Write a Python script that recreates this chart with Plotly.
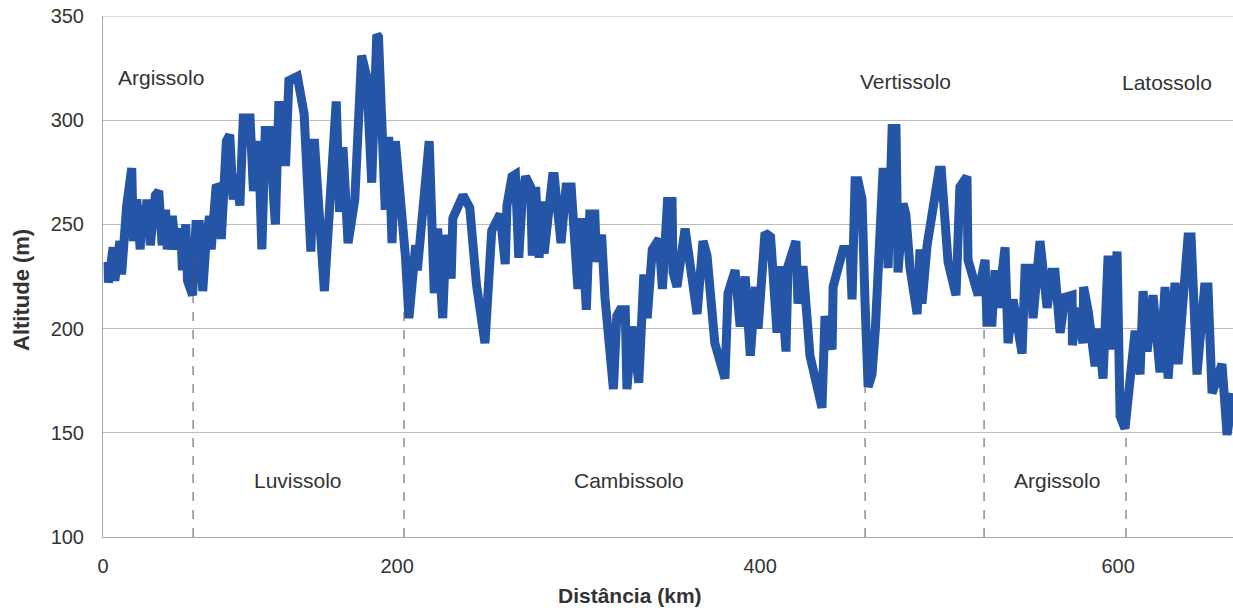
import plotly.graph_objects as go

# Elevation profile
dist_km = [3, 3.2, 6, 7, 10, 11, 14, 16, 17, 18, 20, 22, 23, 25, 26, 28, 31, 33, 35, 37, 38, 41, 43, 46, 47, 49, 50, 53, 55, 57,
           59, 61, 63, 64, 67, 69, 70, 73, 75, 77, 79, 81, 83, 87, 89, 92, 94, 96, 99, 101, 102, 104, 106, 108, 110,
           115, 119, 123, 125, 131, 138, 140, 142, 145, 149, 153, 156, 159, 162, 163, 167, 169, 171, 173, 179, 181, 185, 186,
           193, 196, 198, 201, 203, 206, 207, 213, 217, 221,
           226, 230, 235, 238, 239, 242, 244, 246, 248, 250, 253, 254, 256, 258, 260, 261, 266, 267, 271, 274, 277, 281, 283,
           286, 288, 291, 292, 295, 297, 302, 304, 306, 309, 310, 313, 317, 320, 322, 325, 329, 331, 334,
           336.7, 337.3, 339.6, 344.4, 351.5, 355, 357.4, 362, 368, 369.8, 374, 377, 380, 383, 386, 387.6, 391.7, 395, 398.8,
           400.6, 404.1, 405.3, 410, 411.2, 414.2, 418.3, 425.4, 427.2, 431.4, 432, 437.9, 442, 443.2, 445, 446.7,
           449.1, 450.9, 452.7, 455, 457, 461.5, 463, 464.5, 466.9, 469.2, 470.4, 473.4, 475, 477.5, 481.7, 483.4, 484.6, 487.6,
           489.3, 494.7, 496, 500, 504.7, 507, 511.2, 511.8, 517.8, 521.9, 523, 526, 527.8, 529.6, 533.7, 535.5, 538.5, 543.8,
           545.6, 549, 550.3, 554.4,
           558.6, 561.5, 563.3, 566.3, 569.2, 573.4, 573.6, 576, 579.9, 580.2, 583, 587, 589, 591.7, 594.7, 597, 600, 601.8,
           604.7, 607, 610.7, 613.6, 615.4, 617.8, 621.3, 625.4, 628.4, 630.2, 634.3, 636.1, 642, 643.8, 647.3, 651.8, 653.8,
           656.2, 662.1, 665.1, 668.6]
alt_m = [232, 222, 239, 223, 242, 226, 259, 276, 277, 242, 262, 238, 259, 247, 262, 240, 264, 266, 240, 257, 238, 254, 238, 248, 228, 250, 223, 216, 250, 250,
         218, 242, 254, 238, 269, 267, 243, 290, 293, 262, 274, 259, 301, 301, 266, 290, 238, 295, 295, 262, 250, 307, 307, 278, 319,
         321, 303, 237, 291, 218, 309, 256, 287, 241, 262, 331, 321, 270, 341, 340, 257, 292, 241, 290, 234, 205, 240, 228,
         290, 217, 248, 205, 245, 224, 253, 264, 258, 221,
         193, 247, 255, 231, 259, 273, 274, 234, 262, 273, 268, 235, 268, 234, 261, 236, 273, 273, 241, 268, 268, 219, 253,
         209, 255, 255, 232, 245, 215, 171, 206, 209, 209, 171, 201, 174, 226, 205, 238, 243, 219, 261,
         261, 227, 220, 248, 207, 242, 235, 193, 176, 217, 228, 201, 225, 187, 220, 200, 246, 244, 198,
         230, 189, 230, 242, 212, 230, 187, 162, 206, 190, 220, 238, 238, 214, 271, 271,
         262, 212, 172, 178, 200, 275, 275, 229, 296, 296, 227, 260, 255, 229, 207, 238, 212, 240,
         250, 276, 276, 232, 216, 268, 273, 233, 216, 233, 203, 203, 228, 210, 239, 193, 214, 188,
         229, 229, 205, 242,
         210, 227, 227, 198, 215, 216, 192, 210, 193, 220, 208, 182, 200, 176, 235, 190, 237, 158,
         152, 175, 199, 178, 218, 189, 216, 179, 220, 176, 222, 183, 244, 244, 178, 220, 220,
         169, 183, 149, 169]

# Soil class boundaries (km) and where the dashed lines meet the profile (m)
boundary_km = [53.3, 178.1, 450.9, 521.3, 605.3]
boundary_top_m = [238, 212, 186, 203, 150]

# Soil labels
soil_names = ["Argissolo", "Luvissolo", "Cambissolo", "Vertissolo", "Argissolo", "Latossolo"]
soil_x_km = [34.3, 115.4, 311.2, 475.1, 564.5, 629.6]
soil_y_m = [320.7, 126.9, 126.9, 318.8, 126.9, 318.3]

# Axis ticks
x_tick_vals = [0, 174, 388.8, 600.6]
x_tick_text = ["0", "200", "400", "600"]
y_tick_vals = [100, 150, 200, 250, 300, 350]

FONT = "Liberation Sans, Arial, sans-serif"

fig = go.Figure()
fig.add_trace(go.Scatter(x=dist_km, y=alt_m, mode="lines",
                         line=dict(color="#2455a6", width=9),
                         hoverinfo="x+y", showlegend=False))

# top gridline at 350 (range edge)
fig.add_shape(type="line", xref="paper", yref="y", x0=0, x1=1, y0=350, y1=350,
              line=dict(color="#cccccc", width=1.5), layer="below")

for bx, bt in zip(boundary_km, boundary_top_m):
    fig.add_shape(type="line", xref="x", yref="y", x0=bx, x1=bx, y0=100, y1=bt,
                  line=dict(color="#555555", width=1, dash="dash"), layer="above")

for name, sx, sy in zip(soil_names, soil_x_km, soil_y_m):
    fig.add_annotation(x=sx, y=sy, xref="x", yref="y", text=name, showarrow=False,
                       font=dict(family=FONT, size=21, color="#333333"),
                       xanchor="center", yanchor="middle")

fig.add_annotation(x=0.4664, y=-0.1132, xref="paper", yref="paper", text="<b>Distância (km)</b>",
                   showarrow=False, font=dict(family=FONT, size=21, color="#333333"),
                   xanchor="center", yanchor="middle")
fig.add_annotation(x=-0.0726, y=0.474, xref="paper", yref="paper", text="<b>Altitude (m)</b>",
                   showarrow=False, textangle=-90, font=dict(family=FONT, size=22, color="#333333"),
                   xanchor="center", yanchor="middle")

fig.update_layout(
    width=1233, height=608,
    margin=dict(l=103, r=0, t=16, b=71),
    plot_bgcolor="white", paper_bgcolor="white",
    font=dict(family=FONT, size=20, color="#333333"),
    showlegend=False,
    xaxis=dict(range=[0, 668.6], showgrid=False, zeroline=False, showline=True,
               linecolor="#a8a8a8", linewidth=1, tickvals=x_tick_vals, ticktext=x_tick_text,
               ticks="", ticklabelstandoff=11, tickfont=dict(family=FONT, size=20, color="#333333")),
    yaxis=dict(range=[100, 350], tickvals=y_tick_vals, showgrid=True, gridcolor="#bdbdbd", gridwidth=1,
               zeroline=False, showline=True, linecolor="#a8a8a8", linewidth=1,
               ticks="", ticklabelstandoff=14, ticklabeloverflow="allow",
               tickfont=dict(family=FONT, size=20, color="#333333")),
)

# remove the default page margin so the figure sits at the window's corner
fig.write_html("out.html", config={"displayModeBar": False},
               post_script="document.body.style.margin='0px';document.body.style.overflow='hidden';")
